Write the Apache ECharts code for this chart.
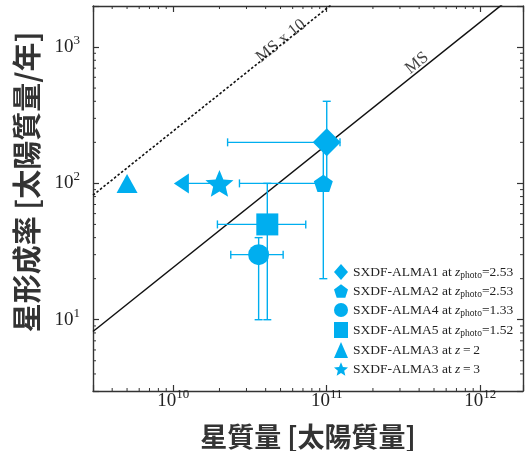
<!DOCTYPE html>
<html><head><meta charset="utf-8">
<script src="https://cdn.jsdelivr.net/npm/echarts@6/dist/echarts.min.js"></script>
<style>html,body{margin:0;padding:0;background:#fff}#c{width:529px;height:451px}</style>
</head><body><div id="c"></div>
<script>
// ---- data ----
const names   = ['SXDF-ALMA1 at zphoto=2.53','SXDF-ALMA2 at zphoto=2.53','SXDF-ALMA4 at zphoto=1.33','SXDF-ALMA5 at zphoto=1.52','SXDF-ALMA3 at z=2','SXDF-ALMA3 at z=3'];
const massX   = [1.0e11, 9.5e10, 3.6e10, 4.1e10, 5.0e9, 2.0e10];
const sfrY    = [200, 100, 30, 50, 100, 100];
const massLo  = [2.26e10, 2.7e10, 2.37e10, 1.94e10, null, null];
const massHi  = [1.22e11, null, 5.2e10, 7.3e10, null, null];
const sfrLo   = [100, 20, 10, 10, null, null];
const sfrHi   = [400, 200, 40, 100, null, null];
const limitX  = [null, null, null, null, null, 1.13e10];   // upper-limit arrow
const msX     = [3e9, 1.9e12];
const msY     = [8.2, 2716];
const ms10X   = [3e9, 1.9e12];
const ms10Y   = [82, 27160];
const noteX   = [3.87e11, 5.03e10];
const noteY   = [764, 1107];
const noteText= ['MS', 'MS x 10'];
const xTicks  = [1e10, 1e11, 1e12];
const xTickExp= ['10', '11', '12'];
const yTicks  = [10, 100, 1000];
const yTickExp= ['1', '2', '3'];

// ---- style ----
const C = '#00aeef';
const AX = '#333';
function starPath(ri){
  let s = 'path://';
  for (let i = 0; i < 10; i++){
    const a = (-90 + 36*i) * Math.PI/180, r = i%2 ? ri : 1;
    s += (i ? 'L' : 'M') + (r*Math.cos(a)).toFixed(3) + ',' + (r*Math.sin(a)).toFixed(3) + ' ';
  }
  return s + 'Z';
}
const pentagon = 'path://M0,-1 L0.951,-0.309 L0.588,0.809 L-0.588,0.809 L-0.951,-0.309 Z';
const symbols = ['diamond', pentagon, 'circle', 'rect', 'triangle', starPath(0.45)];
const sizes   = [[28,28], [19,18], 21, 22, [21,19], 28];

function findIdx(arr, v){ for (let i=0;i<arr.length;i++){ if (Math.abs(Math.log10(v)-Math.log10(arr[i]))<1e-6) return i; } return -1; }
const tickRich = {
  b: {fontFamily:'Liberation Serif', fontSize:19, color:'#222', lineHeight:26},
  s: {fontFamily:'Liberation Serif', fontSize:13, color:'#222', lineHeight:12, verticalAlign:'top'}
};
function minorVals(lo, hi){
  const out = [];
  for (let d = Math.floor(Math.log10(lo)); d <= Math.ceil(Math.log10(hi)); d++)
    for (let k = 2; k <= 9; k++){ const v = k*Math.pow(10,d); if (v > lo && v < hi) out.push(v); }
  return out;
}
const X0 = 3e9, X1 = 1.9e12, Y0 = 3, Y1 = 2000;

const series = [];
// MS lines
series.push({type:'line', data: msX.map((x,i)=>[x, msY[i]]), symbol:'none', silent:true, z:1,
  lineStyle:{color:'#111', width:1.5}});
series.push({type:'line', data: ms10X.map((x,i)=>[x, ms10Y[i]]), symbol:'none', silent:true, z:1,
  lineStyle:{color:'#111', width:1.6, type:[2.5,2]}});
// line notes
series.push({type:'scatter', data: noteX.map((x,i)=>({value:[x, noteY[i]], name: noteText[i]})), symbolSize:1, silent:true,
  itemStyle:{color:'transparent'}, z:4,
  label:{show:true, position:'inside', formatter:p=>p.name, rotate:38.8, fontFamily:'Liberation Serif', fontSize:17, color:'#111'}});
// error bars + limit arrow line
series.push({type:'custom', z:2, silent:true,
  data: massX.map((x,i)=>[x, sfrY[i], i]),
  renderItem: function(params, api){
    const i = api.value(2);
    const c = api.coord([massX[i], sfrY[i]]);
    const st = {stroke:C, lineWidth:1.4};
    const cap = 4;
    const ch = [];
    const L = (x1,y1,x2,y2)=>ch.push({type:'line', shape:{x1,y1,x2,y2}, style:st});
    if (massLo[i] != null || massHi[i] != null){
      const xl = massLo[i] != null ? api.coord([massLo[i], sfrY[i]])[0] : c[0];
      const xh = massHi[i] != null ? api.coord([massHi[i], sfrY[i]])[0] : c[0];
      L(xl, c[1], xh, c[1]);
      if (massLo[i] != null) L(xl, c[1]-cap, xl, c[1]+cap);
      if (massHi[i] != null) L(xh, c[1]-cap, xh, c[1]+cap);
    }
    if (sfrLo[i] != null || sfrHi[i] != null){
      const yl = sfrLo[i] != null ? api.coord([massX[i], sfrLo[i]])[1] : c[1];
      const yh = sfrHi[i] != null ? api.coord([massX[i], sfrHi[i]])[1] : c[1];
      L(c[0], yl, c[0], yh);
      if (sfrLo[i] != null) L(c[0]-cap, yl, c[0]+cap, yl);
      if (sfrHi[i] != null) L(c[0]-cap, yh, c[0]+cap, yh);
    }
    if (limitX[i] != null){
      const xa = api.coord([limitX[i], sfrY[i]])[0];
      L(c[0], c[1], xa, c[1]);
    }
    return {type:'group', children: ch};
  }});
// limit arrowhead
series.push({type:'scatter', silent:true, z:3,
  data: limitX.map((x,i)=> x!=null ? [x, sfrY[i]] : null).filter(d=>d),
  symbol:'triangle', symbolSize:[20,15], symbolRotate:90, itemStyle:{color:C, opacity:1}});
// points
names.forEach((n,i)=>{
  series.push({type:'scatter', name:n, z:3, data:[[massX[i], sfrY[i]]], symbol:symbols[i], symbolSize:sizes[i],
    symbolKeepAspect:true, itemStyle:{color:C, opacity:1}});
});
// minor ticks
series.push({type:'custom', silent:true, z:5, data: minorVals(X0, X1).map(v=>[v, 10]),
  renderItem: function(params, api){
    const cs = params.coordSys; const x = api.coord([api.value(0), 10])[0];
    const st = {stroke:AX, lineWidth:1};
    return {type:'group', children:[
      {type:'line', shape:{x1:x, y1:cs.y+cs.height, x2:x, y2:cs.y+cs.height-3}, style:st},
      {type:'line', shape:{x1:x, y1:cs.y, x2:x, y2:cs.y+3}, style:st}]};
  }});
series.push({type:'custom', silent:true, z:5, data: minorVals(Y0, Y1).map(v=>[1e10, v]),
  renderItem: function(params, api){
    const cs = params.coordSys; const y = api.coord([1e10, api.value(1)])[1];
    const st = {stroke:AX, lineWidth:1};
    return {type:'group', children:[
      {type:'line', shape:{x1:cs.x, y1:y, x2:cs.x+3, y2:y}, style:st},
      {type:'line', shape:{x1:cs.x+cs.width, y1:y, x2:cs.x+cs.width-3, y2:y}, style:st}]};
  }});

const axBase = {type:'log', logBase:10, splitLine:{show:false}, minorTick:{show:false},
  axisLine:{show:true, onZero:false, lineStyle:{color:AX, width:1.4}},
  axisTick:{show:true, inside:true, length:6, lineStyle:{color:AX, width:1.2}}};
const titleStyle = {fontFamily:'Noto Sans CJK JP', fontWeight:'bold', color:'#333'};

const option = {
  animation:false,
  backgroundColor:'#fff',
  grid:{left:93, right:6, top:6, bottom:60, containLabel:false, outerBoundsMode:'none'},
  legend:{data:names, orient:'vertical', left:329, top:259, itemGap:4, itemWidth:14, itemHeight:16,
    selectedMode:false,
    formatter:function(name){
      const m = name.match(/^(.*) at (zphoto|z)=(.*)$/);
      if (m[2] === 'zphoto') return '{t|' + m[1] + ' at }{i|z}{sub|photo}{t|=' + m[3] + '}';
      return '{t|' + m[1] + ' at }{i|z}{t|\u2009=\u2009' + m[3] + '}';
    },
    textStyle:{fontFamily:'Liberation Serif', fontSize:13.5, color:'#222',
      rich:{
        t:{fontFamily:'Liberation Serif', fontSize:13.5, color:'#222', lineHeight:16},
        i:{fontFamily:'Liberation Serif', fontStyle:'italic', fontSize:13.5, color:'#222', lineHeight:16},
        sub:{fontFamily:'Liberation Serif', fontSize:9.5, color:'#222', lineHeight:9, verticalAlign:'bottom'}
      }}},
  xAxis:[
    Object.assign({}, axBase, {min:X0, max:X1, position:'bottom',
      axisLabel:{margin:-3, formatter:v=>{const k=findIdx(xTicks,v); return k<0?'':'{b|10}{s|'+xTickExp[k]+'}';}, rich:tickRich},
      name:'星質量 [太陽質量]', nameLocation:'middle', nameGap:32,
      nameTextStyle:Object.assign({fontSize:27}, titleStyle)}),
    Object.assign({}, axBase, {min:X0, max:X1, position:'top', axisLabel:{show:false}})
  ],
  yAxis:[
    Object.assign({}, axBase, {min:Y0, max:Y1, position:'left',
      axisLabel:{margin:13, formatter:v=>{const k=findIdx(yTicks,v); return k<0?'':'{b|10}{s|'+yTickExp[k]+'}';}, rich:tickRich},
      name:'星形成率 [太陽質量/年]', nameLocation:'middle', nameGap:52, nameRotate:90,
      nameTextStyle:Object.assign({fontSize:29, padding:[0,0,0,33]}, titleStyle)}),
    Object.assign({}, axBase, {min:Y0, max:Y1, position:'right', axisLabel:{show:false}})
  ],
  series: series
};
const chart = echarts.init(document.getElementById('c'), null, {renderer:'canvas'});
chart.setOption(option);
</script></body></html>
